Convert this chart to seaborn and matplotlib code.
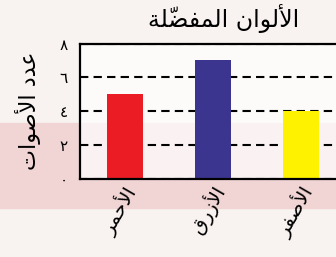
import matplotlib
matplotlib.use("Agg")
import pandas as pd
import seaborn as sns
from matplotlib import pyplot as plt
from matplotlib import transforms
from matplotlib.patches import Rectangle

# data
title = "الألوان المفضّلة"
y_label = "عدد الأصوات"
colours = ["الأحمر", "الأزرق", "الأصفر"]
votes = [5, 7, 4]
bar_colours = ["#ec1c24", "#3b3590", "#fff200"]
y_ticks = [0, 2, 4, 6, 8]
y_tick_labels = ["٠", "٢", "٤", "٦", "٨"]

# matplotlib 3.10 does no arabic shaping, so pick presentation forms by hand
# forms: isolated, final, initial, medial
FORMS = {
    "ا": ("\ufe8d", "\ufe8e", None, None),
    "أ": ("\ufe83", "\ufe84", None, None),
    "ل": ("\ufedd", "\ufede", "\ufedf", "\ufee0"),
    "و": ("\ufeed", "\ufeee", None, None),
    "ن": ("\ufee5", "\ufee6", "\ufee7", "\ufee8"),
    "م": ("\ufee1", "\ufee2", "\ufee3", "\ufee4"),
    "ف": ("\ufed1", "\ufed2", "\ufed3", "\ufed4"),
    "ض": ("\ufebd", "\ufebe", "\ufebf", "\ufec0"),
    "ة": ("\ufe93", "\ufe94", None, None),
    "ع": ("\ufec9", "\ufeca", "\ufecb", "\ufecc"),
    "د": ("\ufea9", "\ufeaa", None, None),
    "ص": ("\ufeb9", "\ufeba", "\ufebb", "\ufebc"),
    "ت": ("\ufe95", "\ufe96", "\ufe97", "\ufe98"),
    "ح": ("\ufea1", "\ufea2", "\ufea3", "\ufea4"),
    "ر": ("\ufead", "\ufeae", None, None),
    "ز": ("\ufeaf", "\ufeb0", None, None),
    "ق": ("\ufed5", "\ufed6", "\ufed7", "\ufed8"),
}
LAM_ALEF = {"ا": ("\ufefb", "\ufefc"), "أ": ("\ufef7", "\ufef8")}
MARKS = "\u0651"


def shape(text):
    # group into clusters (base letter + marks)
    clusters = []
    for ch in text:
        if ch in MARKS and clusters:
            clusters[-1][1] += ch
        else:
            clusters.append([ch, ""])
    # merge lam + alef
    merged = []
    for c in clusters:
        if merged and merged[-1][0] == "ل" and c[0] in LAM_ALEF and not merged[-1][1]:
            merged[-1] = ["ل" + c[0], c[1]]
        else:
            merged.append(c)

    def joins_left(base):
        if base in FORMS:
            return FORMS[base][2] is not None
        return False

    out = []
    for i, (base, marks) in enumerate(merged):
        prev = merged[i - 1][0] if i > 0 else None
        nxt = merged[i + 1][0] if i + 1 < len(merged) else None
        j_prev = prev is not None and joins_left(prev[-1] if len(prev) == 1 else prev)
        if len(base) == 2:  # lam-alef
            glyph = LAM_ALEF[base[1]][1 if j_prev else 0]
        elif base in FORMS:
            f = FORMS[base]
            j_next = f[2] is not None and nxt is not None and nxt[0] in FORMS
            if j_prev and j_next:
                glyph = f[3]
            elif j_next:
                glyph = f[2]
            elif j_prev:
                glyph = f[1]
            else:
                glyph = f[0]
        else:
            glyph = base
        # the mark glyph sits to the right of its pen point, so put it first
        out.append(marks + glyph)
    return "".join(reversed(out))


plt.rcParams["font.family"] = ["DejaVu Sans"]

df = pd.DataFrame({"colour": colours, "votes": votes})

fig = plt.figure(figsize=(3.36, 2.57), dpi=100)
fig.patch.set_facecolor("#f8f3f1")
# faded photo behind the chart
band = Rectangle((0, 0.19), 1, 0.33, transform=fig.transFigure,
                 color="#f1d5d5", zorder=-5)
fig.patches.append(band)

ax = fig.add_axes([80 / 336, 78 / 257, 266 / 336, 135.5 / 257])
ax.set_facecolor((1, 1, 1, 0.7))
sns.barplot(data=df, x="colour", y="votes", hue="colour", palette=bar_colours,
            width=0.41, legend=False, saturation=1, ax=ax)

ax.set_ylim(0, 8)
ax.set_xlim(-0.51, 2.51)
ax.set_yticks(y_ticks)
ax.set_yticklabels(y_tick_labels, fontsize=11)
ax.set_axisbelow(True)
ax.yaxis.grid(True, color="black", linewidth=1.5, linestyle=(0, (4, 2.5)))
ax.tick_params(axis="both", length=0)
ax.tick_params(axis="y", pad=9)

ax.set_xticks(range(len(colours)))
ax.set_xticklabels([shape(c) for c in colours], rotation=60, ha="right",
                   va="center", rotation_mode="anchor", fontsize=14)
for lab in ax.get_xticklabels():
    lab.set_transform(lab.get_transform() +
                      transforms.ScaledTranslation(0.07, -0.04, fig.dpi_scale_trans))

ax.set_xlabel("")
ax.set_ylabel(shape(y_label), fontsize=16, labelpad=13)
ax.set_title(shape(title), fontsize=17, pad=12, x=0.54)

for side in ["left", "top", "bottom"]:
    ax.spines[side].set_linewidth(1.6)
    ax.spines[side].set_color("black")
ax.spines["right"].set_visible(False)

fig.savefig("out.png", dpi=100, facecolor=fig.get_facecolor())
